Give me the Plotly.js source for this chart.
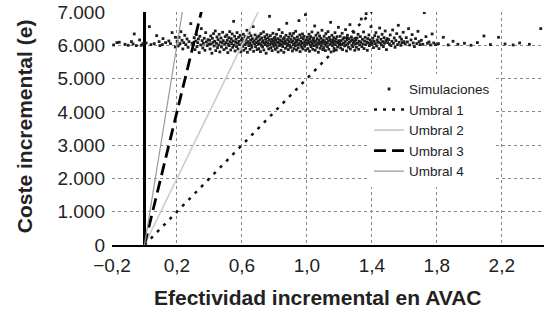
<!DOCTYPE html>
<html><head><meta charset="utf-8">
<script src="https://cdn.plot.ly/plotly-3.0.1.min.js"></script>
<style>html,body{margin:0;padding:0;background:#fff}#chart{width:544px;height:309px}</style>
</head><body><div id="chart"></div>
<script>
// Simulaciones (efectividad incremental, coste incremental)
const simX = [
-0.19,-0.17,-0.155,-0.12,-0.1,-0.08,-0.07,-0.063,-0.05,-0.03,-0.02,-0.01,
0.01,0.03,0.04,0.06,0.075,0.09,0.095,0.11,0.114,0.13,0.15,0.16,0.17,0.19,0.19,
0.201,0.207,0.213,0.219,0.224,0.231,0.236,0.242,0.248,0.255,0.262,0.268,0.274,0.285,0.293,
0.302,0.306,0.311,0.315,0.319,0.323,0.328,0.332,0.337,0.341,0.346,0.350,0.355,0.359,0.363,0.368,0.372,0.377,0.381,0.386,0.391,0.396,
0.401,0.404,0.408,0.411,0.415,0.418,0.422,0.425,0.429,0.432,0.436,0.439,0.443,0.446,0.450,0.453,0.457,0.460,0.464,0.467,0.471,0.474,0.478,0.481,0.485,0.489,0.493,0.497,
0.501,0.504,0.507,0.510,0.513,0.516,0.519,0.522,0.525,0.528,0.531,0.534,0.537,0.540,0.543,0.546,0.549,0.552,0.555,0.558,0.561,0.564,0.567,0.570,0.573,0.576,0.579,0.582,0.585,0.589,0.593,0.597,
0.601,0.604,0.606,0.609,0.612,0.614,0.617,0.620,0.623,0.625,0.628,0.631,0.634,0.636,0.639,0.642,0.645,0.647,0.650,0.653,0.656,0.658,0.661,0.664,0.667,0.669,0.672,0.675,0.678,0.681,0.684,0.687,0.690,0.693,0.696,0.699,
0.701,0.704,0.706,0.709,0.711,0.714,0.717,0.719,0.722,0.725,0.727,0.730,0.733,0.735,0.738,0.741,0.743,0.746,0.749,0.751,0.754,0.757,0.759,0.762,0.765,0.767,0.770,0.773,0.775,0.778,0.781,0.783,0.786,0.789,0.791,0.794,0.796,0.799,
0.801,0.803,0.806,0.808,0.811,0.813,0.816,0.818,0.821,0.823,0.826,0.828,0.831,0.833,0.836,0.838,0.841,0.843,0.846,0.848,0.851,0.853,0.856,0.858,0.861,0.863,0.866,0.868,0.871,0.873,0.876,0.878,0.881,0.883,0.886,0.888,0.891,0.893,0.896,0.898,
0.901,0.903,0.906,0.908,0.911,0.913,0.916,0.918,0.921,0.923,0.926,0.928,0.931,0.933,0.936,0.938,0.941,0.943,0.946,0.948,0.951,0.953,0.956,0.958,0.961,0.963,0.966,0.968,0.971,0.973,0.976,0.978,0.981,0.983,0.986,0.988,0.991,0.993,0.996,0.998,
1.001,1.003,1.006,1.008,1.011,1.013,1.016,1.018,1.021,1.023,1.026,1.028,1.031,1.033,1.036,1.038,1.041,1.043,1.046,1.048,1.051,1.053,1.056,1.058,1.061,1.063,1.066,1.068,1.071,1.073,1.076,1.078,1.081,1.083,1.086,1.088,1.091,1.093,1.096,1.098,
1.101,1.104,1.106,1.109,1.111,1.114,1.117,1.119,1.122,1.125,1.127,1.130,1.133,1.135,1.138,1.141,1.143,1.146,1.149,1.151,1.154,1.157,1.159,1.162,1.165,1.167,1.170,1.173,1.175,1.178,1.181,1.183,1.186,1.189,1.191,1.194,1.196,1.199,
1.202,1.205,1.208,1.211,1.214,1.217,1.220,1.223,1.226,1.229,1.232,1.235,1.238,1.241,1.244,1.247,1.250,1.253,1.256,1.259,1.262,1.265,1.268,1.271,1.274,1.277,1.280,1.283,1.286,1.289,1.292,1.295,1.297,1.299,
1.302,1.305,1.309,1.312,1.315,1.319,1.322,1.325,1.329,1.332,1.335,1.339,1.342,1.345,1.349,1.352,1.355,1.359,1.362,1.365,1.369,1.372,1.375,1.379,1.382,1.385,1.389,1.392,1.395,1.398,
1.402,1.406,1.410,1.414,1.418,1.421,1.425,1.429,1.433,1.437,1.440,1.444,1.448,1.452,1.456,1.459,1.463,1.467,1.471,1.475,1.478,1.482,1.486,1.490,1.494,1.497,
1.503,1.508,1.513,1.518,1.523,1.528,1.533,1.538,1.543,1.548,1.553,1.558,1.563,1.568,1.573,1.578,1.583,1.588,1.593,1.598,
1.605,1.612,1.619,1.626,1.633,1.641,1.648,1.655,1.662,1.669,1.677,1.684,1.691,1.698,
1.705,1.714,1.723,1.733,1.742,1.752,1.761,1.771,1.781,1.792,
1.81,1.84,1.87,1.90,1.93,1.97,2.01,2.05,2.09,2.13,2.18,2.22,2.27,2.31,2.37,2.44
];
const simY = [
6010,6080,6090,6030,6000,6110,6040,6340,5990,6160,6000,6050,
6070,6560,6020,6050,6290,6110,5990,6020,6200,6080,6130,6050,6380,6240,5950,
6120,5980,6240,6050,6410,6150,5890,6080,6300,6020,6190,5940,6110,6650,6060,
6040,6230,5870,6130,6320,5960,6080,6190,5780,6270,6010,6500,6140,5920,6060,6210,5850,6380,6100,5990,6170,6040,
6150,5890,6280,6040,5760,6210,6090,6350,5980,6120,6430,5840,6060,6250,5930,6170,6010,6330,5800,6100,6220,5950,6070,6390,6140,5870,6030,6260,
6080,5920,6310,6150,5780,6040,6230,5990,6410,6110,5860,6200,6050,6340,5940,6130,6720,6000,6270,5830,6090,6180,5960,6380,6060,5890,6240,6120,6020,6300,5800,6160,
6210,5970,6090,6330,5850,6140,6020,6260,5910,6180,6060,6450,5790,6110,6240,5990,6370,6070,5880,6160,6290,6010,5940,6200,6100,6560,5820,6130,6040,6310,5960,6190,6080,5870,6250,6030,
6120,5900,6280,6050,6170,5810,6350,6000,6220,6090,5950,6140,6400,5860,6070,6260,6020,6190,5760,6110,6320,5980,6060,6230,5890,6150,6870,6030,6290,5930,6100,6180,5840,6040,6360,6130,5970,6210,
6060,6240,5880,6150,6010,6330,5930,6100,6200,5800,6080,6470,5990,6160,6040,6270,5850,6120,6020,6380,5960,6190,6090,5790,6230,6050,6140,5910,6300,6070,6660,5980,6170,6030,5870,6250,6110,6000,6350,5940,
6180,5950,6090,6280,5830,6130,6020,6360,5900,6210,6070,5990,6420,6150,5860,6100,6250,6010,5920,6170,6740,6050,6310,5810,6120,6000,6230,5940,6080,6340,5890,6190,6040,6270,5970,6110,6920,5850,6160,6060,
6030,6240,5900,6140,6080,6330,5820,6190,6010,6260,5960,6110,6400,6050,5880,6170,6220,5990,6090,6580,5850,6130,6300,6020,5940,6200,6070,6370,5790,6150,6040,6280,5910,6100,6210,5980,6060,6450,6120,5870,
6160,5930,6270,6050,6110,5840,6350,6000,6200,6080,5960,6410,6130,5880,6240,6030,6170,6690,5800,6090,6300,5990,6150,6060,6230,5910,6120,6380,6020,6190,5860,6100,6260,5950,6070,6540,6140,6010,
6080,6270,5920,6140,6030,6360,5870,6190,6060,6230,5980,6110,6470,6010,5830,6160,6300,6050,5940,6200,6090,6620,5890,6130,6250,6000,6170,5960,6070,6390,6120,5850,6210,6040,
6150,5940,6220,6060,6330,5880,6120,6010,6260,6090,6790,5960,6180,6040,6400,5900,6130,6240,6020,6950,6100,5850,6200,6070,6310,5990,6160,6050,6560,6110,
6030,6210,5930,6120,6290,6050,6380,5980,6160,6090,6250,5900,6520,6070,6180,6010,6330,6110,5960,6230,6060,6430,6140,5870,6200,6080,
6170,6040,6310,5990,6120,6460,6060,6220,5940,6140,6350,6020,6600,6090,6250,6000,6180,6080,6390,6110,
6040,6230,6100,6500,6010,6160,6320,6070,5960,6200,6050,6420,6110,6020,
6150,6030,6980,6260,6060,6100,6010,6340,6070,6020,
6050,6240,6010,6120,6030,6060,6000,6080,6280,6020,6240,6040,6010,6070,6030,6500
];
// Umbrales (rectas desde el origen)
const umbralNames = ['Umbral 1','Umbral 2','Umbral 3','Umbral 4'];
const umbral1X = [0, 1.4],   umbral1Y = [0, 7000];
const umbral2X = [0, 0.7],   umbral2Y = [0, 7000];
const umbral3X = [0, 0.35],  umbral3Y = [0, 7000];
const umbral4X = [0, 0.233], umbral4Y = [0, 7000];
const xTicks = [-0.2, 0.2, 0.6, 1.0, 1.4, 1.8, 2.2];
const yTicks = [0, 1000, 2000, 3000, 4000, 5000, 6000, 7000];
const xTitle = 'Efectividad incremental en AVAC';
const yTitle = 'Coste incremental (e)';

const FONT = '"Liberation Sans", Arial, Helvetica, sans-serif';
const traces = [
  {x: simX, y: simY, type: 'scatter', mode: 'markers', name: 'Simulaciones',
   marker: {symbol: 'square', size: 2.8, color: '#1e1e1e'}},
  {x: umbral1X, y: umbral1Y, type: 'scatter', mode: 'lines', name: umbralNames[0],
   line: {color: '#111', width: 2.5, dash: '3px,6px'}},
  {x: umbral2X, y: umbral2Y, type: 'scatter', mode: 'lines', name: umbralNames[1],
   line: {color: '#cccccc', width: 1.6}},
  {x: umbral3X, y: umbral3Y, type: 'scatter', mode: 'lines', name: umbralNames[2],
   line: {color: '#000', width: 2.8, dash: '12px,6px'}},
  {x: umbral4X, y: umbral4Y, type: 'scatter', mode: 'lines', name: umbralNames[3],
   line: {color: '#999', width: 1.2}}
];
const layout = {
  width: 544, height: 309,
  margin: {l: 112, r: 0, t: 12, b: 64},
  paper_bgcolor: '#fff', plot_bgcolor: '#fff',
  separators: ',.',
  font: {family: FONT, color: '#222', size: 19},
  showlegend: true,
  legend: {x: 0.595, y: 0.735, xanchor: 'left', yanchor: 'top',
           bgcolor: '#fff', borderwidth: 0, itemwidth: 30,
           font: {family: FONT, size: 13.5, color: '#222'}, tracegroupgap: 0},
  xaxis: {range: [-0.2, 2.46], tickvals: xTicks, tickformat: '.1f',
          showgrid: true, gridcolor: '#888', griddash: 'dot', gridwidth: 1,
          zeroline: true, zerolinecolor: '#000', zerolinewidth: 2.5,
          showline: true, linecolor: '#000', linewidth: 2, ticks: '', ticklabelstandoff: 2,
          tickfont: {size: 19, color: '#222'}},
  yaxis: {range: [0, 7000], tickvals: yTicks, tickformat: ',d',
          showgrid: true, gridcolor: '#888', griddash: 'dot', gridwidth: 1,
          zeroline: false, showline: false, ticks: '', ticklabelstandoff: 6,
          tickfont: {size: 19, color: '#222'}},
  annotations: [
    {text: '<b>' + xTitle + '</b>', xref: 'paper', yref: 'paper', x: 0.477, y: 0,
     xanchor: 'center', yanchor: 'middle', yshift: -52, showarrow: false,
     font: {family: FONT, size: 21, color: '#222'}},
    {text: '<b>' + yTitle + '</b>', xref: 'paper', yref: 'paper', x: 0, y: 0.51,
     xanchor: 'center', yanchor: 'middle', xshift: -88, textangle: -90, showarrow: false,
     font: {family: FONT, size: 21, color: '#222'}}
  ]
};
Plotly.newPlot('chart', traces, layout, {displayModeBar: false, staticPlot: true});
</script>
</body></html>
